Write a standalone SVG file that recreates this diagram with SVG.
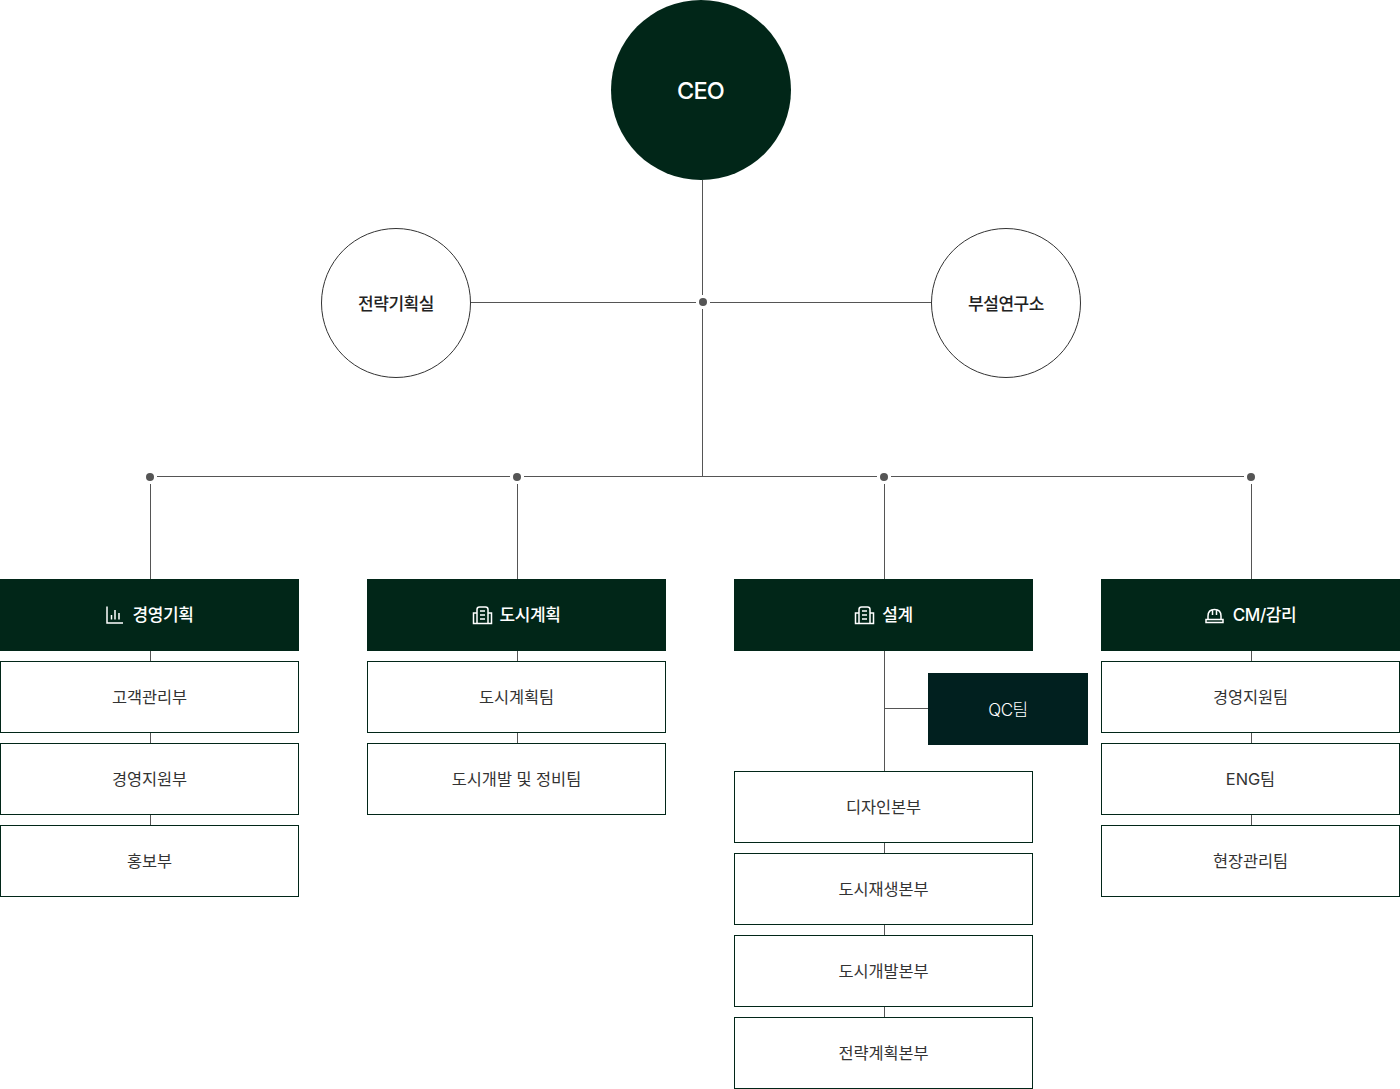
<svg xmlns="http://www.w3.org/2000/svg" width="1400" height="1089" viewBox="0 0 1400 1089">
<style>
text{font-family:"Inter","Noto Sans CJK KR","Noto Sans",sans-serif;text-anchor:middle;dominant-baseline:auto}
.l{stroke:#555;stroke-width:1;fill:none}
.d{fill:#555}
.h{fill:#012618}
.b{fill:#fff;stroke:#012618;stroke-width:1}
.ht{fill:#fff;font-size:17px;font-weight:500;letter-spacing:-.45px}
.t{fill:#333;font-size:16.400px;letter-spacing:-.05px}
.c{fill:#fff;stroke:#333;stroke-width:1}
.ct{fill:#222;font-size:17px;font-weight:500;letter-spacing:-.45px}
.i{fill:none;stroke:#fff;stroke-width:1.500}
</style>
<g id="connectors">
<path class="l" d="M702.500 180V295M702.500 309V476M470 302.500H696M710 302.500H931M157 476.500H510M524 476.500H877M891 476.500H1244"/>
<path class="l" d="M150.500 484V579M517.500 484V579M884.500 484V579M1251.500 484V579"/>
<path class="l" d="M150.500 651V661M150.500 733V743M150.500 815V825M517.500 651V661M517.500 733V743M884.500 651V771M885 708.500H928M884.500 843V853M884.500 925V935M884.500 1007V1017M1251.500 651V661M1251.500 733V743M1251.500 815V825"/>
<circle class="d" cx="703" cy="302" r="4"/>
<circle class="d" cx="150" cy="477" r="4"/>
<circle class="d" cx="517" cy="477" r="4"/>
<circle class="d" cx="884" cy="477" r="4"/>
<circle class="d" cx="1251" cy="477" r="4"/>
</g>
<g id="ceo"><circle class="h" cx="701" cy="90" r="90"/><text x="700.500" y="99" fill="#fff" font-size="23.500" font-weight="500" letter-spacing="-.8">CEO</text></g>
<g id="strategy"><circle class="c" cx="396" cy="303" r="74.500"/><text class="ct" x="396" y="310">전략기획실</text></g>
<g id="lab"><circle class="c" cx="1006" cy="303" r="74.500"/><text class="ct" x="1006" y="310">부설연구소</text></g>
<g id="mgmt"><rect class="h" x="0" y="579" width="299" height="72"/>
<path class="i" d="M107 606.500V623H123M111.500 619.500V615M115 619.500V610M119 619.500V613"/>
<text class="ht" x="163" y="621">경영기획</text></g>
<g id="plan"><rect class="h" x="367" y="579" width="299" height="72"/>
<path class="i" d="M477 623.500V609.500Q477 607 479.500 607H485.500Q488 607 488 609.500V623.500ZM477 613H473.500V623.500H491.500V613H488M480 611H485M480 615H485M480 619H485"/>
<text class="ht" x="530" y="621">도시계획</text></g>
<g id="design"><rect class="h" x="734" y="579" width="299" height="72"/>
<path class="i" d="M859 623.500V609.500Q859 607 861.500 607H867.500Q870 607 870 609.500V623.500ZM859 613H855.500V623.500H873.500V613H870M862 611H867M862 615H867M862 619H867"/>
<text class="ht" x="897.500" y="621">설계</text></g>
<g id="cm"><rect class="h" x="1101" y="579" width="299" height="72"/>
<path class="i" d="M1206 622.500V619.500H1223V622.500ZM1208 619.500V616Q1208 609.500 1214.500 609.500Q1221 609.500 1221 616V619.500M1212.500 610V615M1216.500 610V615"/>
<text class="ht" x="1264.500" y="621">CM/감리</text></g>
<g id="qc"><rect x="928" y="673" width="160" height="72" fill="#01201f"/><text x="1008" y="715.500" fill="#fff" font-size="17" font-weight="300" letter-spacing="-.4">QC팀</text></g>
<g id="n1"><rect class="b" x=".5" y="661.500" width="298" height="71"/><text class="t" x="149.500" y="703">고객관리부</text></g>
<g id="n2"><rect class="b" x=".5" y="743.500" width="298" height="71"/><text class="t" x="149.500" y="785">경영지원부</text></g>
<g id="n3"><rect class="b" x=".5" y="825.500" width="298" height="71"/><text class="t" x="149.500" y="867">홍보부</text></g>
<g id="n4"><rect class="b" x="367.500" y="661.500" width="298" height="71"/><text class="t" x="516.500" y="703">도시계획팀</text></g>
<g id="n5"><rect class="b" x="367.500" y="743.500" width="298" height="71"/><text class="t" x="516.500" y="785">도시개발 및 정비팀</text></g>
<g id="n6"><rect class="b" x="734.500" y="771.500" width="298" height="71"/><text class="t" x="883.500" y="813">디자인본부</text></g>
<g id="n7"><rect class="b" x="734.500" y="853.500" width="298" height="71"/><text class="t" x="883.500" y="895">도시재생본부</text></g>
<g id="n8"><rect class="b" x="734.500" y="935.500" width="298" height="71"/><text class="t" x="883.500" y="977">도시개발본부</text></g>
<g id="n9"><rect class="b" x="734.500" y="1017.500" width="298" height="71"/><text class="t" x="883.500" y="1059">전략계획본부</text></g>
<g id="n10"><rect class="b" x="1101.500" y="661.500" width="298" height="71"/><text class="t" x="1250.500" y="703">경영지원팀</text></g>
<g id="n11"><rect class="b" x="1101.500" y="743.500" width="298" height="71"/><text class="t" x="1250.500" y="785">ENG팀</text></g>
<g id="n12"><rect class="b" x="1101.500" y="825.500" width="298" height="71"/><text class="t" x="1250.500" y="867">현장관리팀</text></g>
</svg>
